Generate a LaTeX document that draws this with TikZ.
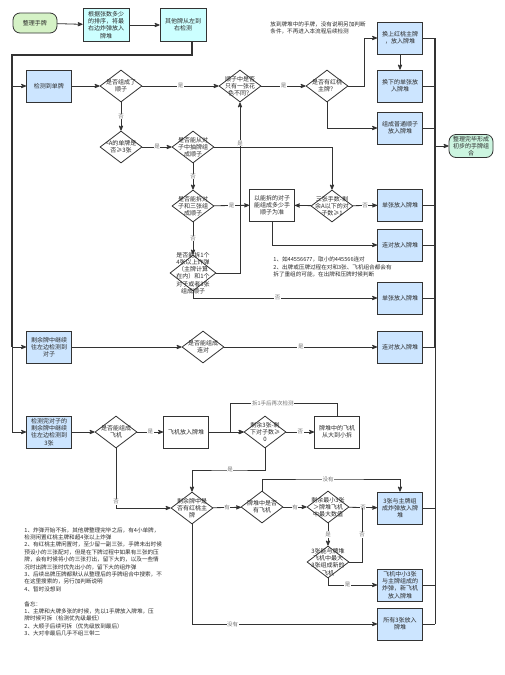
\documentclass[tikz,border=0pt]{standalone}
\usepackage{fontspec}
\setmainfont{Noto Sans CJK SC}
\usepackage{tikz}
\usepackage{xcolor}
\usetikzlibrary{arrows,shapes.geometric}
\definecolor{linec}{HTML}{333333}
\definecolor{textc}{HTML}{2A2A2A}
\definecolor{labc}{HTML}{777777}
\definecolor{startfill}{HTML}{D5F2C6}
\definecolor{endfill}{HTML}{CCF5E0}
\definecolor{cyanfill}{HTML}{CCFFFF}
\definecolor{bluefill}{HTML}{CCE5FF}
\tikzset{
  basenode/.style = {align=center, inner sep=1pt, text centered, text=textc, font=\fontsize{6}{7.2}\selectfont},
  start_node/.style = {basenode, rectangle, rounded corners=7pt, draw=linec, fill=startfill, minimum width=44pt, minimum height=20pt},
  end_node/.style = {start_node, fill=endfill, minimum height=23pt},
  cyan_node/.style = {basenode, rectangle, draw=linec, fill=cyanfill, minimum width=46pt, minimum height=33pt},
  blue_node/.style = {cyan_node, fill=bluefill, minimum width=45pt, minimum height=32pt},
  plain_node/.style = {cyan_node, fill=white, minimum width=45pt, minimum height=32pt},
  dec_node/.style = {diamond, draw=linec, fill=white, minimum width=42pt, minimum height=32pt, inner sep=0pt},
  big_dec_node/.style = {dec_node, minimum width=46pt, minimum height=36pt},
  dec_text/.style = {basenode, inner sep=0pt},
  edge_label/.style = {font=\fontsize{5.5}{6}\selectfont, text=labc, fill=white, inner sep=0.6pt},
  note_text/.style = {align=left, inner sep=0pt, text=textc, font=\fontsize{5.6}{7.4}\selectfont},
  bus_line/.style = {line width=1.8pt},
}
\begin{document}
\begin{tikzpicture}[x=1pt, y=-1pt, >=stealth', line width=0.8pt, color=linec]
    \useasboundingbox (0,0) rectangle (505,675);

    \node [start_node] (start) at (35,23) {整理手牌};
    \node [cyan_node] (s1) at (106,25) {根据张数多少\\的排序，将最\\右边炸弹放入\\牌堆};
    \node [cyan_node] (s2) at (183,25) {其他牌从左到\\右检测};
    \node [note_text, anchor=west] (note_top) at (270,28) {放到牌堆中的手牌，没有说明另加判断\\条件，不再进入本流程后续检测};

    \node [blue_node] (single) at (49,86) {检测到单牌};
    \node [dec_node, label={[dec_text]center:是否组成了\\顺子}] (q1) at (121,86) {};
    \node [dec_node, label={[dec_text]center:顺子中是否\\只有一张花\\色不同？}] (q2) at (240,86) {};
    \node [dec_node, label={[dec_text]center:是否有红桃\\主牌？}] (q3) at (327,86) {};
    \node [blue_node] (b1) at (400,38) {换上红桃主牌\\，放入牌堆};
    \node [blue_node] (b2) at (400,86) {换下的单张放\\入牌堆};
    \node [blue_node] (b3) at (400,128) {组成普通顺子\\放入牌堆};
    \node [end_node] (end) at (471,146) {整理完毕形成\\初步的手牌组\\合};

    \node [dec_node, label={[dec_text]center:<A的单牌是\\否≥3张}] (q4) at (121,147) {};
    \node [dec_node, label={[dec_text]center:是否能从对\\子中抽牌组\\成顺子}] (q5) at (193,147) {};
    \node [dec_node, label={[dec_text]center:是否能拆对\\子和三张组\\成顺子}] (q6) at (193,206) {};
    \node [plain_node] (p1) at (272,205) {以能拆的对子\\能组成多少手\\顺子为准};
    \node [dec_node, label={[dec_text]center:三张手数-剩\\余A以下的对\\子数≥1}] (q7) at (332,206) {};
    \node [blue_node] (b4) at (400,205) {单张放入牌堆};
    \node [blue_node] (b5) at (400,245) {连对放入牌堆};
    \node [big_dec_node, label={[dec_text]center:是否能拆1个\\4张以上炸弹\\（主牌计算\\在内）和1个\\对子或者3张\\组成顺子}] (q8) at (193,273) {};
    \node [note_text, anchor=west] (note_mid) at (273,267) {1、如44556677，取小的445566连对\\2、出牌或压牌过程在对和3张、飞机组合都会有\\拆了重组的可能，在出牌和压牌时候判断};
    \node [blue_node] (b6) at (400,298) {单张放入牌堆};

    \node [blue_node] (pair) at (49,347) {剩余牌中继续\\往左边检测到\\对子};
    \node [dec_node, label={[dec_text]center:是否能组成\\连对}] (q9) at (203,347) {};
    \node [blue_node] (b7) at (400,347) {连对放入牌堆};

    \node [blue_node] (triple) at (49,432) {检测完对子的\\剩余牌中继续\\往左边检测到\\3张};
    \node [dec_node, label={[dec_text]center:是否能组成\\飞机}] (q10) at (116,432) {};
    \node [plain_node] (p2) at (186,432) {飞机放入牌堆};
    \node [dec_node, label={[dec_text]center:剩余3张-剩\\下对子数≥\\0}] (q11) at (265,432) {};
    \node [plain_node] (p3) at (337,432) {牌堆中的飞机\\从大到小拆};
    \node [dec_node, label={[dec_text]center:剩余牌中是\\否有红桃主\\牌}] (q12) at (192,508) {};
    \node [dec_node, label={[dec_text]center:牌堆中是否\\有飞机}] (q13) at (262,507) {};
    \node [dec_node, label={[dec_text]center:剩余最小3张\\＞牌堆飞机\\中最大数值}] (q14) at (328,507) {};
    \node [blue_node] (b8) at (400,508) {3张与主牌组\\成炸弹放入牌\\堆};
    \node [dec_node, label={[dec_text]center:3张能与牌堆\\飞机中最大\\3张组成新的\\飞机}] (q15) at (328,562) {};
    \node [blue_node] (b9) at (400,585) {飞机中小3张\\与主牌组成的\\炸弹，新飞机\\放入牌堆};
    \node [blue_node] (b10) at (400,624) {所有3张放入\\牌堆};

    \node [note_text, anchor=north west] (note_bottom) at (24,527) {1、炸弹开始不拆，其他牌整理完毕之后，有4小单牌，\\检测闲置红桃主牌和超4张以上炸弹\\2、有红桃主牌闲置时，至少留一副三张，手牌未出时候\\预设小的三张配对，但是在下牌过程中如果有三张的压\\牌，会有时候将小的三张打出，留下大的，以及一些情\\况时出牌三张时优先出小的，留下大的组炸弹\\3、后续出牌压牌都默认从整理后的手牌组合中搜索，不\\在这里搜索的，另行加判断说明\\4、暂时没想到\\[7.4pt]备忘：\\1、主牌和大牌多张的时候，先以1手牌放入牌堆，压\\牌时候可拆（检测优先级最低）\\2、大顺子后续可拆（优先级放到最后）\\3、大对非最后几手不组三带二};

    \coordinate (lbus) at (12,55);
    \coordinate (rbus) at (435,146);
    \coordinate (loop_pt) at (230,403);
    \coordinate (yes_row) at (230,470);
    \coordinate (none_row) at (328,479);

    \draw [->] (start) -- (s1);
    \draw [->] (s1) -- (s2);
    \draw [bus_line] ([xshift=9pt]s2.south) |- (lbus) -- (lbus |- pair.west);
    \draw (lbus |- pair.west) -- (lbus |- triple.west);
    \draw [->] (lbus |- single.west) -- (single);
    \draw [->] (lbus |- pair.west) -- (pair);
    \draw [->] (lbus |- triple.west) -- (triple);

    \draw [->] (single) -- (q1);
    \draw [->] (q1) -- node[edge_label] {是} (q2);
    \draw [->] (q2) -- node[edge_label] {是} (q3);
    \draw [->] (q3.east) -- ([xshift=16pt]q3.east) |- (b1.west);
    \draw [->] (q3.south) |- (b3.west);
    \draw [->] (b1) -- (b2);
    \draw [->] (q1) -- node[edge_label] {否} (q4);
    \draw [->] (q4) -- node[edge_label] {是} (q5);
    \draw [->] (q5.east) -| (q7.north);
    \draw [->] (q5) -- node[edge_label] {否} (q6);
    \draw [->] (q6) -- node[edge_label, pos=.5] {是} (p1);
    \draw [->] (q7) -- (p1);
    \draw [->] (q7) -- node[edge_label] {否} (b4);
    \draw [->] (p1.south) |- (b5.west);
    \draw [->] (q6) -- node[edge_label] {否} (q8);
    \draw [->] (q8.east) -| node[edge_label, pos=.88] {是} (q2.south);
    \draw [->] (q8.south) |- node[edge_label, pos=.73] {否} (b6.west);

    \draw [->] (pair) -- (q9);
    \draw [->] (q9) -- node[edge_label] {是} (b7);
    \draw [->] (triple) -- (q10);
    \draw [->] (q10) -- node[edge_label] {是} (p2);
    \draw [->] (p2) -- (q11);
    \draw [->] (q11) -- node[edge_label] {否} (p3);
    \draw [->] (p3.north) |- node[edge_label, pos=.8] {拆1手后再次检测} (loop_pt) |- (q11.west);
    \draw [->] (q11.south) |- (yes_row) node[edge_label] {是} -| (q12.north);
    \draw [->] (q10.south) |- node[edge_label, pos=.45] {否} (q12.west);
    \draw [->] (q12) -- node[edge_label] {有} (q13);
    \draw [->] (q13.north) |- (none_row) node[edge_label] {没有} -| (b8.north);
    \draw [->] (q13) -- node[edge_label] {有} (q14);
    \draw [->] (q14) -- node[edge_label] {否} (b8);
    \draw [->] (q14) -- node[edge_label] {是} (q15);
    \draw (q15.east) -| node[edge_label, pos=.75] {否} ([xshift=-15pt]b8.west);
    \draw [->] (q15.south) |- node[edge_label, pos=.7] {是} (b9.west);
    \draw [->] (q12.south) |- node[edge_label, pos=.61] {没有} (b10.west);

    \foreach \b in {b1,b2,b3,b4,b5,b6,b7,b8,b9,b10}
        \draw (\b.east) -- (\b.east -| rbus);
    \draw [bus_line] (b1.east -| rbus) -- (b7.east -| rbus);
    \draw (b7.east -| rbus) -- (b10.east -| rbus);
    \draw [->] (rbus) -- (end);
\end{tikzpicture}
\end{document}
